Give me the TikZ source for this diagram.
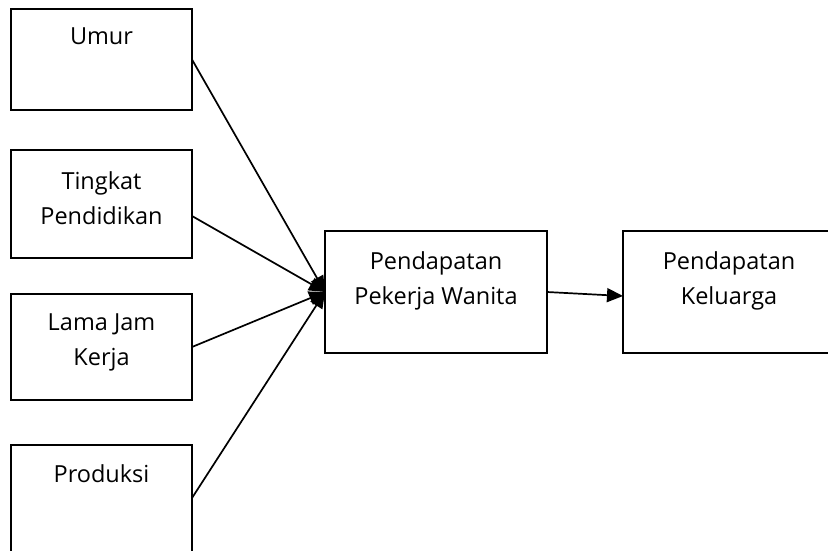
\documentclass[tikz,border=0pt]{standalone}
\usepackage{fontspec}
\setmainfont{Open Sans}
\usetikzlibrary{arrows.meta}
\begin{document}
\begin{tikzpicture}[x=1pt,y=-1pt,
  box/.style={draw=black, line width=1.8pt, inner sep=0pt, outer sep=0pt},
  lbl/.style={anchor=north, inner sep=0pt, align=center, font=\fontsize{23.5}{35}\selectfont},
  conn/.style={line width=1.7pt, -{Triangle[length=16pt,width=14pt]}}
]
\useasboundingbox (0,0) rectangle (828,550);
\clip (0,0) rectangle (828,550);
\fill[white] (0,0) rectangle (828,550);
% left boxes
\node[box, minimum width=181pt, minimum height=101pt] (umur) at (101.5,59.5) {};
\node[box, minimum width=181pt, minimum height=108pt] (ting) at (101.5,204) {};
\node[box, minimum width=181pt, minimum height=106pt] (lama) at (101.5,347) {};
\node[box, minimum width=181pt, minimum height=116pt] (prod) at (101.5,503) {};
% middle and right boxes
\node[box, minimum width=222pt, minimum height=122pt] (pw) at (436,292) {};
\node[box, minimum width=212pt, minimum height=122pt] (kel) at (729,292) {};
% texts
\node[lbl] (tumur) at ([yshift=-19pt]umur.north) {Umur};
\node[lbl] (tting) at ([yshift=-21pt]ting.north) {Tingkat\\Pendidikan};
\node[lbl] (tlama) at ([yshift=-20pt]lama.north) {Lama Jam\\Kerja};
\node[lbl] (tprod) at ([yshift=-19pt]prod.north) {Produksi};
\node[lbl] (tpw) at ([yshift=-20pt]pw.north) {Pendapatan\\Pekerja Wanita};
\node[lbl] (tkel) at ([yshift=-20pt]kel.north) {Pendapatan\\Keluarga};
% connectors
\draw[conn] (umur.east) -- (pw.west);
\draw[conn] ([yshift=-12pt]ting.east) -- (pw.west);
\draw[conn] (lama.east) -- (pw.west);
\draw[conn] ([yshift=5pt]prod.east) -- (pw.west);
\draw[conn] (pw.east) -- ([yshift=-4pt]kel.west);
\end{tikzpicture}
\end{document}
